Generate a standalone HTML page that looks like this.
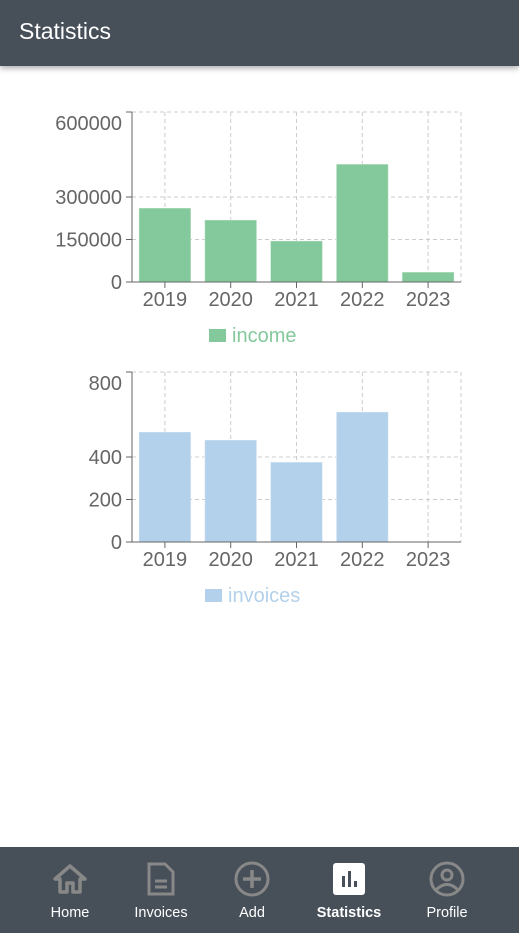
<!DOCTYPE html>
<html><head><meta charset="utf-8"><style>
body{margin:0;width:519px;height:933px;position:relative;background:#fff;font-family:"Liberation Sans",sans-serif;overflow:hidden}
.hdr{position:absolute;left:0;top:0;width:519px;height:66px;background:#474f59;box-shadow:0 2px 6px rgba(0,0,0,.35);z-index:2}
.hdr span{position:absolute;left:19px;top:18px;color:#fff;font-size:23px}
.nav{position:absolute;left:0;top:847px;width:519px;height:86px;background:#474f59}
.item{position:absolute;top:0;width:90px;margin-left:-45px;text-align:center}
.item svg{position:absolute;left:27px;top:14px}
.item span{position:absolute;left:0;width:90px;top:58px;color:#fff;font-size:14.5px}
</style></head><body>
<div class="hdr"><span>Statistics</span></div>
<svg id="c1" width="519" height="360" style="position:absolute;left:0;top:0"></svg>
<svg id="c2" width="519" height="620" style="position:absolute;left:0;top:0"></svg>
<div class="nav">
<div class="item" style="left:70px"><svg width="36" height="36" viewBox="0 0 36 36"><path d="M18 5 L3 18 H8 V31 H15 V22 H21 V31 H28 V18 H33 Z" fill="none" stroke="#888" stroke-width="3.5" stroke-linejoin="round"/></svg><span>Home</span></div>
<div class="item" style="left:161px"><svg width="36" height="36" viewBox="0 0 36 36"><path d="M6 3 H22 L30 11 V33 H6 Z" fill="none" stroke="#888" stroke-width="3"/><path d="M12 20 H24 M12 26 H24" stroke="#888" stroke-width="3"/></svg><span>Invoices</span></div>
<div class="item" style="left:252px"><svg width="36" height="36" viewBox="0 0 36 36"><circle cx="18" cy="18" r="16" fill="none" stroke="#888" stroke-width="3"/><path d="M18 9 V27 M9 18 H27" stroke="#888" stroke-width="3.5"/></svg><span>Add</span></div>
<div class="item" style="left:349px"><svg width="36" height="36" viewBox="0 0 36 36"><rect x="2" y="2" width="32" height="32" rx="3" fill="#fff"/><rect x="11" y="15" width="3" height="11" fill="#474f59"/><rect x="17" y="10" width="3" height="16" fill="#474f59"/><rect x="23" y="20" width="3" height="6" fill="#474f59"/></svg><span style="font-weight:bold">Statistics</span></div>
<div class="item" style="left:447px"><svg width="36" height="36" viewBox="0 0 36 36"><circle cx="18" cy="18" r="16" fill="none" stroke="#888" stroke-width="3"/><circle cx="18" cy="14" r="5" fill="none" stroke="#888" stroke-width="3"/><path d="M7 29 Q18 18 29 29" fill="none" stroke="#888" stroke-width="3"/></svg><span>Profile</span></div>
</div>
<script>
const years=["2019","2020","2021","2022","2023"];
const incomeValues=[261000,219000,145000,416000,35000];
const incomeTicks=[0,150000,300000,600000];
const invoiceValues=[518,480,376,612,0];
const invoiceTicks=[0,200,400,800];
const NS="http://www.w3.org/2000/svg";
function mk(svg,tag,attrs){const e=document.createElementNS(NS,tag);for(const k in attrs)e.setAttribute(k,attrs[k]);svg.appendChild(e);return e;}
function draw(id,values,ticks,max,top,color,label,legX){
 const svg=document.getElementById(id);
 const x0=132,x1=461,base=top+170;
 const y=v=>base-v/max*170;
 const bw=(x1-x0)/years.length;
 const xc=i=>x0+bw*(i+0.5);
 ticks.forEach(t=>{
  const l=mk(svg,'line',{x1:x0,x2:x1,y1:y(t),y2:y(t),stroke:'#ccc','stroke-dasharray':'4 3'});
  
  
  mk(svg,'line',{x1:x0-6,x2:x0,y1:y(t),y2:y(t),stroke:'#666'});
  const off=(t===max)?18:7;
  const tx=mk(svg,'text',{x:x0-10,y:y(t)+off,'text-anchor':'end','font-size':20,fill:'#666','font-family':'Liberation Sans, sans-serif'});
  tx.textContent=t;
  
  
 });
 years.forEach((c,i)=>{
  mk(svg,'line',{x1:xc(i),x2:xc(i),y1:top,y2:base,stroke:'#ccc','stroke-dasharray':'4 3'});
 });
 mk(svg,'line',{x1:x1,x2:x1,y1:top,y2:base,stroke:'#ccc','stroke-dasharray':'4 3'});
 values.forEach((v,i)=>{
  if(v<=0)return;
  const r=mk(svg,'rect',{x:xc(i)-26,y:y(v),width:52,height:base-y(v),fill:color,stroke:'#fff','stroke-opacity':0.4});
  
  
 });
 mk(svg,'line',{x1:x0,x2:x0,y1:top,y2:base,stroke:'#666'});
 mk(svg,'line',{x1:x0,x2:x1,y1:base,y2:base,stroke:'#666'});
 years.forEach((c,i)=>{
  mk(svg,'line',{x1:xc(i),x2:xc(i),y1:base,y2:base+6,stroke:'#666'});
  const tx=mk(svg,'text',{x:xc(i),y:base+24,'text-anchor':'middle','font-size':20,fill:'#666','font-family':'Liberation Sans, sans-serif'});
  tx.textContent=c;
  
  
 });
 const ly=base+47;
 const lr=mk(svg,'rect',{x:legX,y:ly,width:17,height:13,fill:color});
 
 
 const lt=mk(svg,'text',{x:legX+23,y:ly+13,'font-size':20,fill:color,'font-family':'Liberation Sans, sans-serif'});
 lt.textContent=label;
 
 
}
draw('c1',incomeValues,incomeTicks,600000,112,'#84c99b','income',209);
draw('c2',invoiceValues,invoiceTicks,800,372,'#b3d1ea','invoices',205);
</script>
</body></html>
